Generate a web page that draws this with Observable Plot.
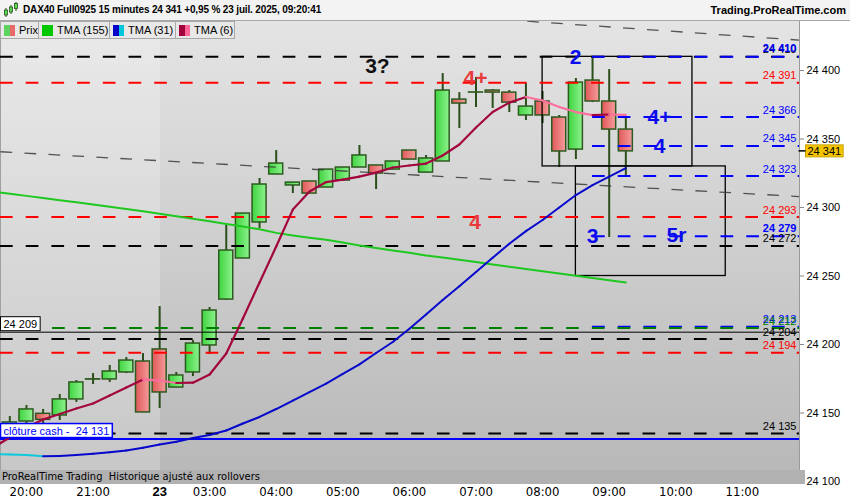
<!DOCTYPE html>
<html><head><meta charset="utf-8">
<script src="https://cdn.jsdelivr.net/npm/d3@7"></script>
<script src="https://cdn.jsdelivr.net/npm/@observablehq/plot@0.6"></script>
<style>
body{margin:0;background:#fff;width:850px;height:500px;overflow:hidden;position:relative;font-family:"Liberation Sans",Arial,sans-serif;}
#hdr{position:absolute;left:0;top:0;width:850px;height:20px;background:#f3f3f3;border-bottom:1px solid #a8a8a8;}
#icon{position:absolute;left:3px;top:2px;}
#title{position:absolute;left:23px;top:4px;font-weight:bold;font-size:10px;letter-spacing:-0.15px;white-space:pre;}
#site{position:absolute;right:4px;top:4px;font-weight:bold;font-size:11px;}
#bg{position:absolute;left:0;top:21px;height:463px;background:linear-gradient(#e4e4e4,#b7b7b7);border-left:1px solid #a0a0a0;border-right:1px solid #999;box-sizing:border-box;width:800px}
#bgday{position:absolute;left:0;top:0;width:159px;height:100%;background:rgba(255,255,255,0.22)}
#chart{position:absolute;left:0;top:21px;}
#legend{position:absolute;left:0;top:21px;height:18px;display:flex;}
.lg{box-sizing:border-box;border:1px solid #a8a8a8;background:#e8e8e8;height:18px;font-size:11px;display:flex;align-items:center;padding-left:3px;gap:4px;margin-right:-1px}
.sw{width:11px;height:11px;display:flex}
.sw span{flex:1}
#bar{position:absolute;left:0;top:470px;width:805px;height:14px;background:#b1b1b1;font-family:"Liberation Sans Narrow","DejaVu Sans Condensed","Arial Narrow",sans-serif;font-stretch:condensed;font-size:11px;line-height:14px;padding-left:2px;white-space:pre;box-sizing:border-box}
</style></head>
<body>
<div id="bg"><div id="bgday"></div></div>
<div id="chart"></div>
<div id="hdr">
  <svg id="icon" width="16" height="16"><line x1="3" y1="6" x2="3" y2="15" stroke="#2b4f1b"/><rect x="1.5" y="8" width="3" height="5" fill="#5d5" stroke="#2b4f1b" stroke-width="0.8"/><line x1="8" y1="3" x2="8" y2="12" stroke="#2b4f1b"/><rect x="6.5" y="5" width="3" height="5" fill="#5d5" stroke="#2b4f1b" stroke-width="0.8"/><line x1="13" y1="0" x2="13" y2="9" stroke="#2b4f1b"/><rect x="11.5" y="1.5" width="3" height="5" fill="#5d5" stroke="#2b4f1b" stroke-width="0.8"/></svg>
  <div id="title">DAX40 Full0925 15 minutes 24 341 +0,95 % 23 juil. 2025, 09:20:41</div>
  <div id="site">Trading.ProRealTime.com</div>
</div>
<div id="legend">
  <div class="lg" style="width:39px"><div class="sw"><span style="background:#5fd35f"></span><span style="background:#e86a6a"></span></div>Prix</div>
  <div class="lg" style="width:72px"><div class="sw"><span style="background:#00c800"></span></div>TMA (155)</div>
  <div class="lg" style="width:67px"><div class="sw"><span style="background:#0000c8"></span><span style="background:#00c8dc"></span></div>TMA (31)</div>
  <div class="lg" style="width:60px"><div class="sw"><span style="background:#a0003c"></span><span style="background:#ff6496"></span></div>TMA (6)</div>
</div>
<div id="bar">ProRealTime Trading  Historique ajusté aux rollovers</div>
<script>
// ---- Candles (15 min), index 0..37 ----
const candleOpen  = [24135.8,24143.8,24149.4,24148.2,24159.9,24174.4,24174.5,24179.6,24187.6,24196.4,24168.6,24179.6,24199.3,24232.8,24262.8,24289.1,24324.1,24316.1,24319.0,24314.6,24319.7,24329.2,24330.7,24327.7,24341.6,24325.5,24333.6,24378.8,24383.9,24385.4,24383.9,24367.2,24377.4,24365.7,24342.3,24392.7,24377.4,24356.9];
const candleHigh  = [24147.4,24155.5,24152.6,24163.5,24173.7,24178.8,24184.7,24190.5,24193.4,24227.7,24179.6,24202.9,24227.0,24286.9,24295.6,24321.2,24341.6,24318.2,24319.0,24327.7,24329.2,24345.3,24330.7,24333.6,24341.6,24338.0,24397.8,24383.9,24394.9,24386.1,24385.4,24390.5,24384.7,24367.2,24394.2,24409.5,24400.7,24365.7];
const candleLow   = [24134.3,24141.6,24142.3,24144.5,24157.7,24170.8,24172.3,24178.8,24150.4,24153.3,24168.6,24176.6,24192.7,24232.1,24262.8,24284.7,24324.1,24310.2,24310.2,24314.6,24319.7,24329.2,24313.1,24327.7,24335.0,24325.5,24333.6,24357.7,24373.0,24372.3,24369.3,24363.5,24361.3,24329.2,24335.0,24376.6,24278.1,24322.6];
const candleClose = [24143.1,24152.6,24145.0,24159.9,24172.3,24174.6,24180.3,24188.3,24150.4,24165.0,24177.4,24200.7,24224.8,24268.6,24295.6,24316.8,24332.1,24318.2,24310.2,24327.7,24329.2,24338.0,24324.8,24333.6,24335.0,24335.8,24385.4,24375.9,24384.0,24383.9,24376.6,24373.7,24367.2,24340.9,24391.2,24377.4,24356.9,24341.0];

// ---- Moving averages, index -1..37 ----
const tma155 = [24311.7,24310.1,24308.5,24306.9,24305.3,24303.8,24302.2,24300.6,24298.9,24297.2,24295.5,24293.6,24291.8,24289.9,24288.0,24286.1,24284.1,24281.5,24279.6,24277.9,24276.4,24274.5,24272.3,24270.4,24268.6,24266.9,24265.0,24263.5,24261.9,24260.2,24258.4,24256.7,24255.1,24253.5,24251.8,24250.2,24248.5,24246.9,24245.3];
const tma31  = [24120.1,24119.7,24119.3,24118.5,24118.6,24119.3,24120.2,24121.4,24122.6,24124.6,24127.0,24129.0,24131.8,24133.9,24137.2,24142.3,24147.1,24152.9,24159.1,24165.3,24171.5,24178.5,24185.5,24193.8,24201.8,24211.5,24221.9,24232.5,24242.5,24252.9,24263.3,24273.5,24282.8,24290.9,24300.0,24309.1,24316.4,24322.6,24328.7];
const tma6   = [24124.8,24132.1,24139.4,24145.3,24149.3,24153.3,24156.9,24162.8,24168.6,24174.5,24173.7,24171.9,24172.1,24178.1,24193.4,24219.0,24245.3,24271.5,24298.5,24311.7,24318.6,24320.4,24322.6,24325.5,24329.2,24330.7,24332.1,24338.0,24346.0,24358.4,24369.7,24376.6,24380.7,24378.1,24373.4,24369.7,24367.5,24367.9,24367.7];

// ---- Time axis ----
const tickIdx    = [1,5,9,12,16,20,24,28,32,36,40,44];
const tickLabels = ["20:00","21:00","23","03:00","04:00","05:00","06:00","07:00","08:00","09:00","10:00","11:00"];
const priceTicks = [24100,24150,24200,24250,24300,24350,24400];
const currentPrice = 24341;

// ---- Horizontal levels ----
const levelValues = [24410,24410,24391,24366,24345,24323,24293,24279,24272,24213,24212,24204,24194,24135];
const levelColors = ["#000","#0000ff","#ff0000","#0000ff","#0000ff","#0000ff","#ff0000","#0000ff","#000","#0000ff","#008000","#000","#ff0000","#000"];
const levelStart  = [null,35,null,35,35,35,null,35,null,35,2.57,null,null,null];
const levelBold   = [false,true,false,false,false,false,false,true,false,false,false,false,false,false];
const solidValues = [24209,24131];
const solidColors = ["#000","#0000ff"];
const solidWidths = [1,2];
const boxTexts    = ["24\u00a0209","clôture cash -\u00a0\u00a024\u00a0131"];

// ---- Trend lines (dashed gray) ----
const trendIdx1 = [-0.559,-0.559], trendP1 = [24462.7,24340.7];
const trendIdx2 = [47.43,47.43],   trendP2 = [24422.2,24308.0];

// ---- Rectangles ----
const rectIdx1 = [32,34], rectIdx2 = [41,43], rectP1 = [24330,24250], rectP2 = [24410,24330];

// ---- Wave labels ----
const annText  = ["3?","4+","4","2","4+","4","3","5r"];
const annIdx   = [22.08,27.97,27.94,33.98,39.02,39.02,35.0,40.04];
const annPrice = [24403,24394,24289,24410,24366,24345,24279,24280];
const annColor = ["#111","#e83a3a","#e83a3a","#0a0aee","#0a0aee","#0a0aee","#0a0aee","#0a0aee"];

const fmt = v => d3.format(",")(v).replace(/,/g, "\u00a0");
const X0 = -0.559, X1 = 47.43;

const candles = candleOpen.map((o,i)=>({i, open:o, high:candleHigh[i], low:candleLow[i], close:candleClose[i], up: candleClose[i] >= o}));
const lineIdx = tma155.map((_,k)=>k-1);
const l155 = tma155.map((v,k)=>({i:lineIdx[k], v}));
function segs(vals, upC, dnC){
  const out=[];
  for(let k=0;k<vals.length-1;k++) out.push({a:lineIdx[k], b:lineIdx[k+1], va:vals[k], vb:vals[k+1], c: vals[k+1]>=vals[k]?upC:dnC});
  return out;
}
const s31 = segs(tma31,"#0808cc","#10c8dc");
const s6 = segs(tma6,"#a3063e","#ff6e9c");
const levels = levelValues.map((v,k)=>({v, c:levelColors[k], from: levelStart[k]==null? X0 : levelStart[k], bold: levelBold[k], t: fmt(v)}));
const solids = solidValues.map((v,k)=>({v, c:solidColors[k], w:solidWidths[k], t:boxTexts[k]}));
const trends = trendIdx1.map((a,k)=>({a, b:trendIdx2[k], pa:trendP1[k], pb:trendP2[k]}));
const rects = rectIdx1.map((a,k)=>({a, b:rectIdx2[k], p1:rectP1[k], p2:rectP2[k]}));
const ann = annText.map((t,k)=>({t, i:annIdx[k], p:annPrice[k], c:annColor[k]}));
const tickMap = new Map(tickIdx.map((d,k)=>[d,tickLabels[k]]));
const narrow = "'Liberation Sans Narrow','DejaVu Sans Condensed','Arial Narrow',sans-serif";

const chart = Plot.plot({
  width: 850, height: 479,
  marginLeft: 0, marginRight: 51, marginTop: 0, marginBottom: 16,
  x: {domain:[X0, X1]},
  y: {domain:[24097.8, 24435.8]},
  color: {type: "identity"},
  style: {background:"transparent", fontFamily:"'Liberation Sans',Arial,sans-serif", fontSize:"11px", color:"#000"},
  marks: [
    Plot.ruleX(candles, {x:"i", y1:"low", y2:"high", stroke:"#2b4f1b", strokeWidth:2}),
    Plot.rect(candles.filter(d=>d.up), {x1:d=>d.i-0.42, x2:d=>d.i+0.42, y1:"open", y2:"close", fill:"url(#gUp)", stroke:"#2d5a1f", strokeWidth:1.5, inset:0}),
    Plot.rect(candles.filter(d=>!d.up), {x1:d=>d.i-0.42, x2:d=>d.i+0.42, y1:"open", y2:"close", fill:"url(#gDn)", stroke:"#2d5a1f", strokeWidth:1.5, inset:0}),
    Plot.rect(rects, {x1:"a", x2:"b", y1:"p1", y2:"p2", fill:"none", stroke:"#000", strokeWidth:1.3, inset:0}),
    Plot.link(trends, {x1:"a", x2:"b", y1:"pa", y2:"pb", stroke:"#3a3a3a", strokeOpacity:0.85, strokeWidth:1.3, strokeDasharray:"11.7,12.3", clip:true}),
    Plot.ruleY(levels, {y:"v", x1:"from", x2:()=>X1, stroke:"c", strokeWidth:2, strokeDasharray:"12.7,13"}),
    Plot.ruleY(solids, {y:"v", x1:()=>X0, x2:()=>X1, stroke:"c", strokeWidth:"w"}),
    Plot.line(l155, {x:"i", y:"v", stroke:"#1ec81e", strokeWidth:2, clip:true}),
    Plot.link(s31, {x1:"a", x2:"b", y1:"va", y2:"vb", stroke:"c", strokeWidth:2, strokeLinecap:"round", clip:true}),
    Plot.link(s6, {x1:"a", x2:"b", y1:"va", y2:"vb", stroke:"c", strokeWidth:2.2, strokeLinecap:"round", clip:true}),
    Plot.text(levels.filter(d=>!d.bold), {y:"v", frameAnchor:"right", dx:-3, dy:-7, text:"t", fill:"c", textAnchor:"end", fontSize:11}),
    Plot.text(levels.filter(d=>d.bold), {y:"v", frameAnchor:"right", dx:-3, dy:-8, text:"t", fill:"c", textAnchor:"end", fontSize:11, fontWeight:"bold"}),
    Plot.text(solids, {y:"v", frameAnchor:"left", dx:3, dy:-8, text:"t", fill:"c", textAnchor:"start", fontSize:11}),
    Plot.text(ann, {x:"i", y:"p", text:"t", fill:"c", fontSize:21, fontWeight:"bold"}),
    Plot.axisY({anchor:"right", ticks:priceTicks, tickFormat:fmt, tickSize:4, tickPadding:3, fontSize:11, stroke:"#888"}),
    Plot.text([currentPrice], {y:d=>d, frameAnchor:"right", dx:8, text:d=>fmt(d), textAnchor:"start", fontSize:11}),
    Plot.axisX({ticks:tickIdx, tickFormat:d=>tickMap.get(d), tickSize:0, tickPadding:2, fontSize:13, fontFamily:narrow})
  ]
});
document.getElementById("chart").appendChild(chart);

const NS="http://www.w3.org/2000/svg";
function el(tag, attrs){ const e=document.createElementNS(NS, tag); for (const k in attrs) e.setAttribute(k, attrs[k]); return e; }
// gradients
const defs = el("defs",{});
[["gUp","#3fd43f","#8ef28e"],["gDn","#e05858","#f59c9c"]].forEach(([id,a,b])=>{
  const g=el("linearGradient",{id});
  g.appendChild(el("stop",{offset:"0%","stop-color":a}));
  g.appendChild(el("stop",{offset:"100%","stop-color":b}));
  defs.appendChild(g);
});
chart.insertBefore(defs, chart.firstChild);

// decorate label texts: boxes and current price
const curTxt = fmt(currentPrice);
Array.from(chart.querySelectorAll("text")).forEach(t=>{
  const s = t.textContent;
  const isBox = boxTexts.includes(s);
  const isCur = s === curTxt;
  if (!isBox && !isCur) return;
  let b; try { b = t.getBBox(); } catch(e) { return; }
  const tr = t.getAttribute("transform") || "";
  if (isBox) {
    const col = t.getAttribute("fill") || "#000";
    t.parentNode.insertBefore(el("rect",{x:b.x-3, y:b.y-1, width:b.width+6, height:b.height+2, fill:"#fff", stroke:col, "stroke-width": col==="#000"?1:1.5, transform:tr}), t);
  } else {
    t.parentNode.insertBefore(el("rect",{x:b.x-2, y:b.y, width:b.width+4, height:b.height, fill:"#f5c400", stroke:"#c9a000", transform:tr}), t);
    t.parentNode.insertBefore(el("line",{x1:b.x-9, x2:b.x-2, y1:b.y+b.height/2, y2:b.y+b.height/2, stroke:"#000", "stroke-width":1.5, transform:tr}), t);
  }
});
// bold day label
chart.querySelectorAll("text").forEach(t=>{
  if (t.textContent==="23") { t.setAttribute("font-weight","bold"); t.setAttribute("font-family","'Liberation Sans',Arial,sans-serif"); }
});
</script>
</body></html>
